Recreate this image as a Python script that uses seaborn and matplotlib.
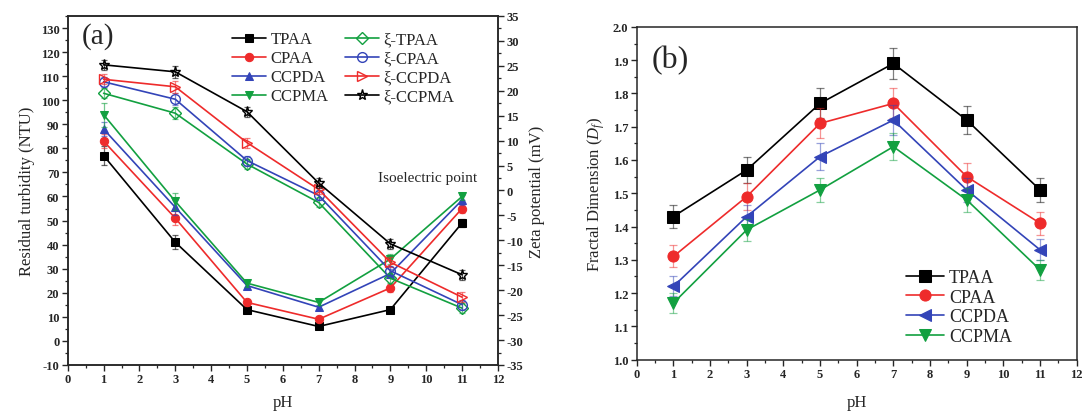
"""
Residual turbidity / zeta potential and fractal dimension vs pH
"""
#---------------------------------------------
# Import the libraries
import matplotlib
matplotlib.use("Agg")
import matplotlib.pyplot as plt
from matplotlib.ticker import MultipleLocator
import seaborn as sns
import numpy as np

#---------------------------------------------
# Data
ph = [1, 3, 5, 7, 9, 11]
names = ['TPAA', 'CPAA', 'CCPDA', 'CCPMA']

# (a) residual turbidity (NTU)
turb_tpaa = [77, 41, 13, 6, 13, 49]
turb_cpaa = [83, 51, 16, 9, 22, 55]
turb_ccpda = [88, 55.5, 23, 14, 28, 58.5]
turb_ccpma = [94, 58, 24, 16, 34, 60]
turb_err_tpaa = [4, 3, 1, 1, 1, 1.5]
turb_err_cpaa = [3, 3, 1.5, 1, 1.5, 2]
turb_err_ccpda = [3, 3, 1.5, 1, 2, 2]
turb_err_ccpma = [5, 3.5, 1.5, 1, 2, 1.5]

# (a) zeta potential (mV)
zeta_tpaa = [19.5, 15.5, 5.3, -2.4, -17.6, -23.6]
zeta_cpaa = [21.8, 18.3, 6.0, -1.0, -16.1, -22.9]
zeta_ccpda = [22.3, 20.8, 9.6, 0.2, -14.4, -21.4]
zeta_ccpma = [25.2, 23.8, 15.8, 1.5, -10.7, -16.9]
zeta_err = [1, 1.2, 1, 1, 1, 1]

# (b) fractal dimension
df_tpaa = [1.43, 1.57, 1.77, 1.89, 1.72, 1.51]
df_cpaa = [1.31, 1.49, 1.71, 1.77, 1.55, 1.41]
df_ccpda = [1.22, 1.43, 1.61, 1.72, 1.51, 1.33]
df_ccpma = [1.17, 1.39, 1.51, 1.64, 1.48, 1.27]
df_err_tpaa = [0.035, 0.04, 0.045, 0.047, 0.042, 0.036]
df_err_cpaa = [0.033, 0.04, 0.045, 0.045, 0.04, 0.035]
df_err_ccpda = [0.03, 0.035, 0.04, 0.045, 0.035, 0.032]
df_err_ccpma = [0.03, 0.033, 0.037, 0.04, 0.035, 0.03]

#---------------------------------------------
# Style  (tick labels bold, everything else set back to normal)
sns.set_style("ticks")
plt.rcParams['font.family'] = ['Liberation Serif', 'DejaVu Serif']
plt.rcParams['font.weight'] = 'bold'
plt.rcParams['mathtext.fontset'] = 'custom'
plt.rcParams['mathtext.rm'] = 'Liberation Serif:normal'
plt.rcParams['mathtext.it'] = 'Liberation Serif:italic:normal'
plt.rcParams['axes.unicode_minus'] = False
plt.rcParams['axes.linewidth'] = 1.1
plt.rcParams['xtick.direction'] = 'out'
plt.rcParams['ytick.direction'] = 'out'

black, red, blue, green = '#000000', '#ee2b2b', '#3344b8', '#12a040'
cols = [black, red, blue, green]
NORMAL = 'normal'

fig = plt.figure(figsize=(10.89, 4.14), dpi=100)
ax = fig.add_axes([0.0622, 0.116, 0.395, 0.843])
ax2 = ax.twinx()
bx = fig.add_axes([0.5847, 0.129, 0.404, 0.8036])


def style_ticks(a):
    a.tick_params(which='major', length=4, width=1, labelsize=9, pad=2)
    a.tick_params(which='minor', length=2.5, width=0.9)


#---------------------------------------------
# (a) turbidity on left axis
turb = [turb_tpaa, turb_cpaa, turb_ccpda, turb_ccpma]
turb_err = [turb_err_tpaa, turb_err_cpaa, turb_err_ccpda, turb_err_ccpma]
turb_mk = ['s', 'o', '^', 'v']
for name, vals, err, c, m in zip(names, turb, turb_err, cols, turb_mk):
    ax.errorbar(ph, vals, yerr=err, fmt='none', ecolor=c, alpha=0.6,
                elinewidth=0.9, capsize=2.5, capthick=0.9)
    sns.lineplot(x=ph, y=vals, ax=ax, color=c, marker=m, markersize=6,
                 markeredgecolor=c, linewidth=1.2, label=name, legend=False)

# zeta on right axis
zeta = [zeta_tpaa, zeta_cpaa, zeta_ccpda, zeta_ccpma]
zeta_cols = [green, blue, red, black]
zeta_mk = ['D', 'o', '>', '*']
zeta_ms = [6, 7, 7, 8]
for name, vals, c, m, ms in zip(names, zeta, zeta_cols, zeta_mk, zeta_ms):
    ax2.errorbar(ph, vals, yerr=zeta_err, fmt='none', ecolor=c, alpha=0.6,
                 elinewidth=0.9, capsize=2.5, capthick=0.9)
    sns.lineplot(x=ph, y=vals, ax=ax2, color=c, marker=m, markersize=ms,
                 markerfacecolor='none', markeredgecolor=c, markeredgewidth=1.0,
                 linewidth=1.2, label='ξ-' + name, legend=False)

ax.set_xlim(0, 12)
ax.set_ylim(-10, 135)
ax2.set_ylim(-35, 35)
ax.xaxis.set_major_locator(MultipleLocator(1))
ax.xaxis.set_minor_locator(MultipleLocator(0.5))
ax.set_yticks(np.arange(-10, 131, 10))
ax.yaxis.set_minor_locator(MultipleLocator(5))
ax2.yaxis.set_major_locator(MultipleLocator(5))
ax2.yaxis.set_minor_locator(MultipleLocator(2.5))
style_ticks(ax)
style_ticks(ax2)
ax.set_xlabel('pH', fontsize=12, labelpad=6, fontweight=NORMAL)
ax.set_ylabel('Residual turbidity (NTU)', fontsize=12, labelpad=4, fontweight=NORMAL)
ax2.set_ylabel('Zeta potential (mV)', fontsize=12, labelpad=4, fontweight=NORMAL)
ax.text(0.4, 124, '(a)', fontsize=21, fontweight=NORMAL)
ax2.text(8.66, 2.7, 'Isoelectric point', fontsize=11, va='center', fontweight=NORMAL)

h1, l1 = ax.get_legend_handles_labels()
h2, l2 = ax2.get_legend_handles_labels()
ax2.legend(h1 + h2, l1 + l2, ncol=2, loc='upper right', frameon=False,
           prop={'size': 12, 'weight': NORMAL},
           bbox_to_anchor=(0.915, 0.975), borderaxespad=0,
           handlelength=2.0, columnspacing=1.0, labelspacing=0.18,
           handletextpad=0.3)

#---------------------------------------------
# (b) fractal dimension
frac = [df_tpaa, df_cpaa, df_ccpda, df_ccpma]
frac_err = [df_err_tpaa, df_err_cpaa, df_err_ccpda, df_err_ccpma]
frac_mk = ['s', 'o', '<', 'v']
for name, vals, err, c, m in zip(names, frac, frac_err, cols, frac_mk):
    bx.errorbar(ph, vals, yerr=err, fmt='none', ecolor=c, alpha=0.5,
                elinewidth=0.9, capsize=3, capthick=0.9)
    sns.lineplot(x=ph, y=vals, ax=bx, color=c, marker=m, markersize=8,
                 markeredgecolor=c, linewidth=1.2, label=name, legend=False)

bx.set_xlim(0, 12)
bx.set_ylim(1.0, 2.0)
bx.xaxis.set_major_locator(MultipleLocator(1))
bx.xaxis.set_minor_locator(MultipleLocator(0.5))
bx.yaxis.set_major_locator(MultipleLocator(0.1))
bx.yaxis.set_minor_locator(MultipleLocator(0.05))
style_ticks(bx)
bx.set_xlabel('pH', fontsize=12, labelpad=10, fontweight=NORMAL)
bx.set_ylabel(r'Fractal Dimension ($\mathit{D_f}$)', fontsize=12, labelpad=4,
              fontweight=NORMAL)
bx.text(0.4, 1.88, '(b)', fontsize=23, fontweight=NORMAL)
bx.legend(loc='lower right', frameon=False, prop={'size': 13, 'weight': NORMAL},
          bbox_to_anchor=(0.89, -0.005), handlelength=2.1,
          labelspacing=0.15, handletextpad=0.3)

fig.savefig('out.png', dpi=100)
